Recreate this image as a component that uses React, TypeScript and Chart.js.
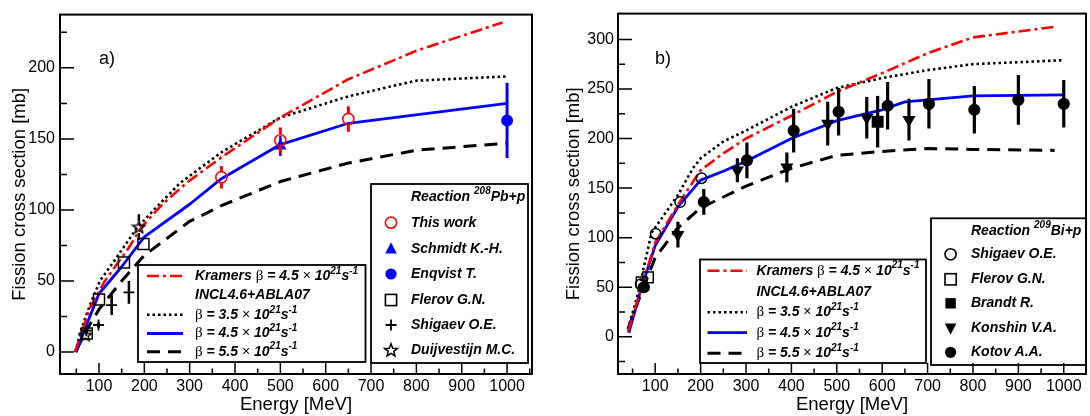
import React, { useEffect, useRef } from 'react';
import { Chart, registerables } from 'chart.js';
Chart.register(...registerables);

const SANS = '"Liberation Sans", Arial, Helvetica, sans-serif';
const SERIF = '"Liberation Serif", "Times New Roman", serif';

// ---------- axes ----------
const xTickValues = [100, 200, 300, 400, 500, 600, 700, 800, 900, 1000];
const xMinorValues = [50, 150, 250, 350, 450, 550, 650, 750, 850, 950, 1050];
const yTicksA = [0, 50, 100, 150, 200];
const yMinorA = [25, 75, 125, 175, 225];
const yTicksB = [0, 50, 100, 150, 200, 250, 300];
const yMinorB = [-25, 25, 75, 125, 175, 225, 275];

// ---------- panel a) 208Pb + p : model curves ----------
const kramersA_E = [47, 60, 80, 113, 165, 194, 240, 293, 370, 500, 650, 800, 990];
const kramersA = [0, 12, 31, 50, 73, 88, 104, 119, 137, 165, 192, 212, 232];
const beta35A_E = [48, 60, 80, 102, 140, 185, 230, 279, 372, 500, 650, 800, 1000];
const beta35A = [0, 15, 33, 50, 67, 88, 103, 119, 141, 165, 180, 191, 194];
const beta45A_E = [50, 70, 100, 150, 200, 300, 370, 500, 650, 1000];
const beta45A = [0, 17, 41, 60, 81, 104, 122, 146, 161, 175];
const beta55A_E = [48, 70, 100, 150, 200, 300, 370, 500, 650, 800, 1000];
const beta55A = [0, 14, 30, 50, 68, 92, 103, 120, 133, 142, 147];

// ---------- panel a) data ----------
const thisWorkE = [370, 500, 650];
const thisWork = [123, 149, 164];
const thisWorkErr = [8, 9, 9];
const schmidtE = [500];
const schmidt = [145];
const schmidtErr = [7];
const enqvistE = [1000];
const enqvist = [163];
const enqvistErr = [26.5];
const flerovAE = [73, 100, 155, 198];
const flerovA = [13, 37, 63, 76];
const shigaevAE = [72, 99, 128, 166];
const shigaevA = [15, 19, 33, 42];
const shigaevAErr = [2, 2, 7, 8];
const duijvE = [70, 188];
const duijv = [12, 88];
const duijvErr = [2, 9];

// ---------- panel b) 209Bi + p : model curves ----------
const kramersB_E = [40, 70, 100, 150, 200, 250, 300, 400, 500, 600, 700, 800, 985];
const kramersB = [5, 50, 95, 133, 168, 185, 200, 223, 247, 266, 286, 302, 313];
const beta35B_E = [40, 60, 92, 150, 183, 200, 250, 300, 400, 500, 600, 700, 800, 1000];
const beta35B = [8, 40, 105, 143, 170, 180, 197, 208, 232, 251, 261, 269, 275, 279];
const beta45B_E = [42, 70, 100, 150, 200, 250, 300, 400, 500, 600, 650, 800, 1000];
const beta45B = [4, 50, 92, 131, 158, 167, 177, 200, 218, 229, 237, 243, 244];
const beta55B_E = [40, 70, 100, 150, 200, 250, 300, 400, 500, 600, 700, 800, 980];
const beta55B = [8, 45, 80, 110, 130, 141, 152, 170, 183, 187, 190, 189, 188];

// ---------- panel b) data ----------
const shigaevBE = [68, 101, 155, 202];
const shigaevB = [53, 104, 136, 160];
const flerovBE = [70, 84];
const flerovB = [55, 60];
const brandtE = [590];
const brandt = [217];
const brandtErr = [26];
const konshinE = [150, 281, 390, 480, 566, 659];
const konshin = [103, 168, 171, 215, 221, 219];
const konshinErr = [13, 12, 15, 22, 21, 21];
const kotovE = [75, 207, 302, 405, 504, 612, 703, 803, 900, 1000];
const kotov = [50, 136, 178, 208, 227, 233, 235, 229, 239, 235];
const kotovErr = [3, 13, 18, 22, 24, 24, 25, 24, 25, 24];

// ---------- legend texts ----------
const reactionA = ['208', 'Pb+p'];
const reactionB = ['209', 'Bi+p'];
const dataLabelsA = ['This work', 'Schmidt K.-H.', 'Enqvist T.', 'Flerov G.N.', 'Shigaev O.E.', 'Duijvestijn M.C.'];
const dataLabelsB = ['Shigaev O.E.', 'Flerov G.N.', 'Brandt R.', 'Konshin V.A.', 'Kotov A.A.'];
const betaLabels = ['4.5', '3.5', '4.5', '5.5'];

// ---------- styles ----------
const RED = '#ff0000';
const BLUE = '#0000ff';
const BLACK = '#000000';
const STY = {
  kramers: { color: RED, width: 2.6, dash: [12, 4, 3, 4] },
  b35: { color: BLACK, width: 2.6, dash: [2.5, 3] },
  b45: { color: BLUE, width: 2.8, dash: [] as number[] },
  b55: { color: BLACK, width: 3, dash: [13, 8] },
};

const pts = (e: number[], s: number[]) => e.map((x, i) => ({ x, y: s[i] }));

function starPath(g: CanvasRenderingContext2D, cx: number, cy: number, R: number, r: number) {
  g.beginPath();
  for (let i = 0; i < 10; i++) {
    const ang = -Math.PI / 2 + (i * Math.PI) / 5;
    const rad = i % 2 === 0 ? R : r;
    const px = cx + Math.cos(ang) * rad;
    const py = cy + Math.sin(ang) * rad;
    if (i === 0) g.moveTo(px, py);
    else g.lineTo(px, py);
  }
  g.closePath();
}

const starImg = (() => {
  const c = document.createElement('canvas');
  c.width = 15;
  c.height = 15;
  const g = c.getContext('2d')!;
  g.strokeStyle = '#000';
  g.lineWidth = 1.4;
  starPath(g, 7.5, 8, 6.5, 2.8);
  g.stroke();
  return c;
})();

type MarkerKind = 'openCircle' | 'circle' | 'openSquare' | 'square' | 'triangle' | 'downTriangle' | 'plus' | 'star';

function drawMarker(ctx: CanvasRenderingContext2D, kind: MarkerKind, x: number, y: number, color: string) {
  ctx.save();
  ctx.strokeStyle = color;
  ctx.fillStyle = color;
  ctx.lineWidth = 1.6;
  ctx.setLineDash([]);
  const r = 5.6;
  ctx.beginPath();
  switch (kind) {
    case 'openCircle':
      ctx.arc(x, y, r, 0, Math.PI * 2);
      ctx.stroke();
      break;
    case 'circle':
      ctx.arc(x, y, r, 0, Math.PI * 2);
      ctx.fill();
      break;
    case 'openSquare':
      ctx.strokeRect(x - r, y - r, 2 * r, 2 * r);
      break;
    case 'square':
      ctx.fillRect(x - 5.2, y - 5.2, 10.4, 10.4);
      break;
    case 'triangle':
      ctx.moveTo(x, y - 6.5);
      ctx.lineTo(x + 5.8, y + 4.8);
      ctx.lineTo(x - 5.8, y + 4.8);
      ctx.closePath();
      ctx.fill();
      break;
    case 'downTriangle':
      ctx.moveTo(x, y + 6.5);
      ctx.lineTo(x + 5.8, y - 4.8);
      ctx.lineTo(x - 5.8, y - 4.8);
      ctx.closePath();
      ctx.fill();
      break;
    case 'plus':
      ctx.lineWidth = 1.8;
      ctx.moveTo(x - 5.5, y);
      ctx.lineTo(x + 5.5, y);
      ctx.moveTo(x, y - 5.5);
      ctx.lineTo(x, y + 5.5);
      ctx.stroke();
      break;
    case 'star':
      ctx.lineWidth = 1.5;
      starPath(ctx, x, y + 0.5, 6.8, 2.9);
      ctx.stroke();
      break;
  }
  ctx.restore();
}

type Seg = { t: string; f: string; dy?: number };
const F_BI = `italic bold 14px ${SANS}`;
const F_SUP = `italic bold 10px ${SANS}`;
const F_BETA = `15px ${SERIF}`;
const F_TIMES = `14px ${SANS}`;

function drawSegs(ctx: CanvasRenderingContext2D, x: number, y: number, segs: Seg[]) {
  ctx.save();
  ctx.textBaseline = 'middle';
  ctx.textAlign = 'left';
  ctx.fillStyle = '#000';
  let cx = x;
  for (const s of segs) {
    ctx.font = s.f;
    ctx.fillText(s.t, cx, y + (s.dy || 0));
    cx += ctx.measureText(s.t).width;
  }
  ctx.restore();
}

const betaSegs = (v: string): Seg[] => [
  { t: 'β', f: F_BETA },
  { t: ` = ${v}`, f: F_BI },
  { t: ' × ', f: F_TIMES },
  { t: '10', f: F_BI },
  { t: '21', f: F_SUP, dy: -5 },
  { t: 's', f: F_BI },
  { t: '-1', f: F_SUP, dy: -5 },
];

interface PanelSpec {
  id: string;
  left: number;
  width: number;
  yWidth: number;
  padRight: number;
  yTitlePad: number;
  yTickPad: number;
  xMin: number;
  xMax: number;
  yMin: number;
  yMax: number;
  yTicks: number[];
  yMinor: number[];
  label: string;
  labelX: number;
  datasets: any[];
  lineBox: { x1: number; y1: number; x2: number; y2: number; s1: number; s2: number; tx: number; rows: number[] };
  dataBox: { x1: number; y1: number; x2: number; y2: number; mx: number; tx: number; hy: number; rows: number[] };
  reaction: string[];
  dataLabels: string[];
  dataMarkers: { kind: MarkerKind; color: string }[];
}

function lineDs(e: number[], s: number[], st: { color: string; width: number; dash: number[] }) {
  return {
    type: 'line',
    data: pts(e, s),
    showLine: true,
    borderColor: st.color,
    borderWidth: st.width,
    borderDash: st.dash,
    borderCapStyle: 'butt',
    borderJoinStyle: 'round',
    pointRadius: 0,
    fill: false,
    tension: 0,
  };
}

function pointDs(e: number[], s: number[], o: any) {
  return {
    type: 'scatter',
    data: pts(e, s),
    showLine: false,
    pointStyle: o.style,
    pointRadius: o.radius,
    pointBorderWidth: o.bw ?? 1.6,
    pointBorderColor: o.color,
    pointBackgroundColor: o.fill ? o.color : 'rgba(0,0,0,0)',
    pointRotation: o.rotation || 0,
    borderColor: o.color,
    errY: o.err,
    errWidth: o.errWidth || 3,
    errGap: o.gap || 0,
  };
}

const errorBarPlugin = {
  id: 'errorBars',
  beforeDatasetDraw(chart: any, args: any) {
    const ds = chart.data.datasets[args.index];
    if (!ds.errY) return;
    const xs = chart.scales.x;
    const ys = chart.scales.y;
    const ctx = chart.ctx as CanvasRenderingContext2D;
    ctx.save();
    ctx.strokeStyle = ds.borderColor;
    ctx.lineWidth = ds.errWidth;
    ctx.setLineDash([]);
    ctx.beginPath();
    ds.data.forEach((p: any, i: number) => {
      const e = ds.errY[i];
      if (!e) return;
      const px = xs.getPixelForValue(p.x);
      const y0 = ys.getPixelForValue(p.y);
      const yt = ys.getPixelForValue(p.y + e);
      const yb = ys.getPixelForValue(p.y - e);
      const gap = ds.errGap;
      if (gap > 0) {
        if (y0 - gap > yt) {
          ctx.moveTo(px, yt);
          ctx.lineTo(px, y0 - gap);
        }
        if (y0 + gap < yb) {
          ctx.moveTo(px, y0 + gap);
          ctx.lineTo(px, yb);
        }
      } else {
        ctx.moveTo(px, yt);
        ctx.lineTo(px, yb);
      }
    });
    ctx.stroke();
    ctx.restore();
  },
};

function decorPlugin(spec: PanelSpec) {
  return {
    id: 'decor' + spec.id,
    afterDraw(chart: any) {
      const ctx = chart.ctx as CanvasRenderingContext2D;
      const a = chart.chartArea;
      const xs = chart.scales.x;
      const ys = chart.scales.y;
      ctx.save();
      ctx.setLineDash([]);

      // legend: lines
      const lb = spec.lineBox;
      ctx.fillStyle = '#fff';
      ctx.fillRect(lb.x1, lb.y1, lb.x2 - lb.x1, lb.y2 - lb.y1);
      ctx.strokeStyle = '#000';
      ctx.lineWidth = 1.8;
      ctx.strokeRect(lb.x1, lb.y1, lb.x2 - lb.x1, lb.y2 - lb.y1);
      const sampleStyles = [STY.kramers, null, STY.b35, STY.b45, STY.b55];
      sampleStyles.forEach((st, i) => {
        if (!st) return;
        ctx.save();
        ctx.strokeStyle = st.color;
        ctx.lineWidth = st.width;
        ctx.setLineDash(st.dash);
        ctx.lineCap = 'butt';
        ctx.beginPath();
        ctx.moveTo(lb.s1, lb.rows[i]);
        ctx.lineTo(lb.s2, lb.rows[i]);
        ctx.stroke();
        ctx.restore();
      });
      drawSegs(ctx, lb.tx, lb.rows[0], [{ t: 'Kramers ', f: F_BI }, ...betaSegs(betaLabels[0])]);
      drawSegs(ctx, lb.tx, lb.rows[1], [{ t: 'INCL4.6+ABLA07', f: F_BI }]);
      drawSegs(ctx, lb.tx, lb.rows[2], betaSegs(betaLabels[1]));
      drawSegs(ctx, lb.tx, lb.rows[3], betaSegs(betaLabels[2]));
      drawSegs(ctx, lb.tx, lb.rows[4], betaSegs(betaLabels[3]));

      // legend: data
      const db = spec.dataBox;
      ctx.fillStyle = '#fff';
      ctx.fillRect(db.x1, db.y1, db.x2 - db.x1, db.y2 - db.y1);
      ctx.strokeStyle = '#000';
      ctx.lineWidth = 1.8;
      ctx.strokeRect(db.x1, db.y1, db.x2 - db.x1, db.y2 - db.y1);
      drawSegs(ctx, db.tx, db.hy, [
        { t: 'Reaction ', f: F_BI },
        { t: spec.reaction[0], f: F_SUP, dy: -6 },
        { t: spec.reaction[1], f: F_BI },
      ]);
      spec.dataLabels.forEach((lab, i) => {
        const m = spec.dataMarkers[i];
        drawMarker(ctx, m.kind, db.mx, db.rows[i], m.color);
        drawSegs(ctx, db.tx, db.rows[i], [{ t: lab, f: F_BI }]);
      });

      // ticks (inward)
      ctx.strokeStyle = '#000';
      ctx.lineWidth = 1.5;
      ctx.beginPath();
      for (const v of xTickValues) {
        const px = xs.getPixelForValue(v);
        ctx.moveTo(px, a.bottom);
        ctx.lineTo(px, a.bottom - 11);
      }
      for (const v of xMinorValues) {
        if (v <= spec.xMin || v >= spec.xMax) continue;
        const px = xs.getPixelForValue(v);
        ctx.moveTo(px, a.bottom);
        ctx.lineTo(px, a.bottom - 5.5);
      }
      for (const v of spec.yTicks) {
        const py = ys.getPixelForValue(v);
        ctx.moveTo(a.left, py);
        ctx.lineTo(a.left + 14, py);
      }
      for (const v of spec.yMinor) {
        if (v <= spec.yMin || v >= spec.yMax) continue;
        const py = ys.getPixelForValue(v);
        ctx.moveTo(a.left, py);
        ctx.lineTo(a.left + 7, py);
      }
      ctx.stroke();

      // frame
      ctx.lineWidth = 2;
      ctx.strokeRect(a.left, a.top, a.right - a.left, a.bottom - a.top);

      // panel label
      ctx.fillStyle = '#000';
      ctx.font = `18px ${SANS}`;
      ctx.textBaseline = 'middle';
      ctx.textAlign = 'left';
      ctx.fillText(spec.label, spec.labelX, 59);
      ctx.restore();
    },
  };
}

function buildConfig(spec: PanelSpec): any {
  const tickFont = { family: SANS, size: 16 };
  const titleFont = { family: SANS, size: 18.5 };
  return {
    type: 'scatter',
    data: { datasets: spec.datasets },
    options: {
      animation: false,
      responsive: false,
      maintainAspectRatio: false,
      devicePixelRatio: 1,
      events: [],
      layout: { padding: { left: 0, top: 10, right: spec.padRight, bottom: 0 } },
      plugins: { legend: { display: false }, tooltip: { enabled: false } },
      scales: {
        x: {
          type: 'linear',
          min: spec.xMin,
          max: spec.xMax,
          afterFit: (s: any) => {
            s.height = 42;
          },
          afterBuildTicks: (s: any) => {
            s.ticks = xTickValues.map((v) => ({ value: v }));
          },
          ticks: { autoSkip: false, maxRotation: 0, padding: 3, font: tickFont, color: '#000', callback: (v: any) => String(v) },
          grid: { display: false, drawTicks: false },
          border: { display: false },
          title: { display: true, text: 'Energy [MeV]', font: titleFont, color: '#000', padding: { top: 0, bottom: 0 } },
        },
        y: {
          type: 'linear',
          min: spec.yMin,
          max: spec.yMax,
          afterFit: (s: any) => {
            s.width = spec.yWidth;
          },
          afterBuildTicks: (s: any) => {
            s.ticks = spec.yTicks.map((v) => ({ value: v }));
          },
          ticks: { autoSkip: false, padding: spec.yTickPad, font: tickFont, color: '#000', callback: (v: any) => String(v) },
          grid: { display: false, drawTicks: false },
          border: { display: false },
          title: { display: true, text: 'Fission cross section [mb]', font: titleFont, color: '#000', padding: { top: spec.yTitlePad, bottom: 0 } },
        },
      },
    },
    plugins: [errorBarPlugin, decorPlugin(spec)],
  };
}

const panelA: PanelSpec = {
  id: 'a',
  left: 0,
  width: 545,
  yWidth: 60,
  padRight: 13,
  yTitlePad: 8.4,
  yTickPad: 5,
  xMin: 14,
  xMax: 1055,
  yMin: -15.5,
  yMax: 237.5,
  yTicks: yTicksA,
  yMinor: yMinorA,
  label: 'a)',
  labelX: 99,
  datasets: [
    pointDs(thisWorkE, thisWork, { style: 'circle', radius: 5.6, color: RED, err: thisWorkErr, errWidth: 3, gap: 6 }),
    pointDs(schmidtE, schmidt, { style: 'triangle', radius: 5.5, color: BLUE, fill: true, err: schmidtErr, errWidth: 2.5 }),
    pointDs(enqvistE, enqvist, { style: 'circle', radius: 5.2, color: BLUE, fill: true, err: enqvistErr, errWidth: 3 }),
    pointDs(flerovAE, flerovA, { style: 'rect', radius: 7.8, color: BLACK, bw: 1.5 }),
    pointDs(shigaevAE, shigaevA, { style: 'cross', radius: 5.5, color: BLACK, bw: 1.8, err: shigaevAErr, errWidth: 2.5 }),
    pointDs(duijvE, duijv, { style: starImg, radius: 6, color: BLACK, err: duijvErr, errWidth: 2.5, gap: 6 }),
    lineDs(kramersA_E, kramersA, STY.kramers),
    lineDs(beta35A_E, beta35A, STY.b35),
    lineDs(beta45A_E, beta45A, STY.b45),
    lineDs(beta55A_E, beta55A, STY.b55),
  ],
  lineBox: { x1: 138, y1: 265, x2: 365.5, y2: 362, s1: 147, s2: 183, tx: 195, rows: [276, 295.5, 314.8, 333.5, 351.7] },
  dataBox: { x1: 371, y1: 184, x2: 528, y2: 363, mx: 391, tx: 411, hy: 197.5, rows: [222.7, 248.7, 274, 300, 325, 350] },
  reaction: reactionA,
  dataLabels: dataLabelsA,
  dataMarkers: [
    { kind: 'openCircle', color: RED },
    { kind: 'triangle', color: BLUE },
    { kind: 'circle', color: BLUE },
    { kind: 'openSquare', color: BLACK },
    { kind: 'plus', color: BLACK },
    { kind: 'star', color: BLACK },
  ],
};

const panelB: PanelSpec = {
  id: 'b',
  left: 545,
  width: 550,
  yWidth: 73,
  padRight: 7,
  yTitlePad: 17.9,
  yTickPad: 4,
  xMin: 18,
  xMax: 1049,
  yMin: -37.5,
  yMax: 326,
  yTicks: yTicksB,
  yMinor: yMinorB,
  label: 'b)',
  labelX: 110,
  datasets: [
    pointDs(shigaevBE, shigaevB, { style: 'circle', radius: 5.2, color: BLACK, bw: 1.5 }),
    pointDs(flerovBE, flerovB, { style: 'rect', radius: 7.5, color: BLACK, bw: 1.5 }),
    pointDs(brandtE, brandt, { style: 'rect', radius: 7.3, color: BLACK, fill: true, err: brandtErr, errWidth: 3.2 }),
    pointDs(konshinE, konshin, { style: 'triangle', radius: 6, color: BLACK, fill: true, rotation: 180, err: konshinErr, errWidth: 3.2 }),
    pointDs(kotovE, kotov, { style: 'circle', radius: 5.3, color: BLACK, fill: true, err: kotovErr, errWidth: 3.2 }),
    lineDs(kramersB_E, kramersB, STY.kramers),
    lineDs(beta35B_E, beta35B, STY.b35),
    lineDs(beta45B_E, beta45B, STY.b45),
    lineDs(beta55B_E, beta55B, STY.b55),
  ],
  lineBox: { x1: 155, y1: 259.5, x2: 381, y2: 363, s1: 162.5, s2: 202, tx: 211.4, rows: [270.7, 292.3, 312.3, 332.7, 353.3] },
  dataBox: { x1: 386, y1: 218.3, x2: 541, y2: 365, mx: 405.6, tx: 426, hy: 231, rows: [254.3, 279.3, 303.3, 328.3, 352.3] },
  reaction: reactionB,
  dataLabels: dataLabelsB,
  dataMarkers: [
    { kind: 'openCircle', color: BLACK },
    { kind: 'openSquare', color: BLACK },
    { kind: 'square', color: BLACK },
    { kind: 'downTriangle', color: BLACK },
    { kind: 'circle', color: BLACK },
  ],
};

function Panel({ spec }: { spec: PanelSpec }) {
  const ref = useRef<HTMLCanvasElement>(null);
  useEffect(() => {
    const chart = new Chart(ref.current as HTMLCanvasElement, buildConfig(spec));
    return () => chart.destroy();
  }, [spec]);
  return (
    <canvas
      ref={ref}
      width={spec.width}
      height={416}
      style={{ position: 'absolute', left: spec.left, top: 0, width: spec.width, height: 416 }}
    />
  );
}

export default function App() {
  return (
    <div style={{ position: 'fixed', left: 0, top: 0, width: 1090, height: 416, background: '#fff', overflow: 'hidden' }}>
      <Panel spec={panelA} />
      <Panel spec={panelB} />
    </div>
  );
}
